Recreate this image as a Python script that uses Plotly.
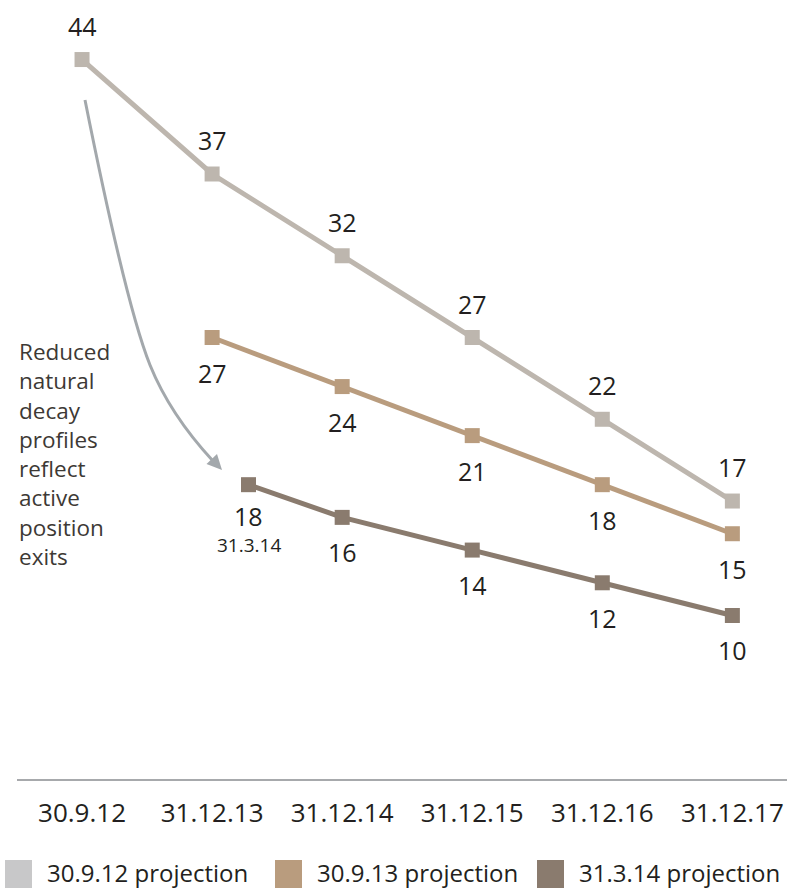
import plotly.graph_objects as go

# ---- data ----
categories = ["30.9.12", "31.12.13", "31.12.14", "31.12.15", "31.12.16", "31.12.17"]
cat_pos = [0, 1, 2, 3, 4, 5]

s1_name = "30.9.12 projection"
s1_x = [0, 1, 2, 3, 4, 5]
s1_y = [44, 37, 32, 27, 22, 17]

s2_name = "30.9.13 projection"
s2_x = [1, 2, 3, 4, 5]
s2_y = [27, 24, 21, 18, 15]

s3_name = "31.3.14 projection"
s3_x = [1.28, 2, 3, 4, 5]
s3_y = [18, 16, 14, 12, 10]
s3_start_label = "31.3.14"

note_lines = ["Reduced", "natural", "decay", "profiles", "reflect", "active", "position", "exits"]

# ---- style ----
W, H = 787, 888
ML, MR, MT, MB = 17, 0, 10, 109
PW, PH = W - ML - MR, H - MT - MB
XR = [-0.5, 5.42]
YR = [0, 47.03]
FONT = "Open Sans"
C1, C2, C3 = "#bdb6ae", "#b99c7e", "#8a7b6e"
L1, L2, L3 = "#c8c8c9", "#b99c7e", "#8a7b6e"
TXT = "#231f20"
ARROW = "#a3a8ac"

def px_x(p):  # pixel -> data x
    return XR[0] + (p - ML) / PW * (XR[1] - XR[0])

def px_y(p):  # pixel -> data y
    return YR[1] - (p - MT) / PH * (YR[1] - YR[0])

def pt(p):
    return "{:.4f} {:.4f}".format(px_x(p[0]), px_y(p[1]))

def pap_x(p):
    return (p - ML) / PW

def pap_y(p):
    return (H - MB - p) / PH

fig = go.Figure()
for name, xs, ys, col in [(s1_name, s1_x, s1_y, C1), (s2_name, s2_x, s2_y, C2), (s3_name, s3_x, s3_y, C3)]:
    fig.add_trace(go.Scatter(
        x=xs, y=ys, mode="lines+markers", name=name,
        line=dict(color=col, width=5),
        marker=dict(symbol="square", size=15, color=col),
        showlegend=False, hoverinfo="skip",
    ))

annotations = []
# data labels
for xs, ys, shift in [(s1_x, s1_y, 34), (s2_x, s2_y, -35), (s3_x, s3_y, -35)]:
    for i, (xv, yv) in enumerate(zip(xs, ys)):
        sh = shift
        if xs is s3_x and i == 0:
            sh = -31
        annotations.append(dict(x=xv, y=yv, xref="x", yref="y", text=str(yv),
                                showarrow=False, yshift=sh, xanchor="center", yanchor="middle",
                                font=dict(family=FONT, size=25, color=TXT)))
annotations.append(dict(x=s3_x[0], y=s3_y[0], xref="x", yref="y", text=s3_start_label,
                        showarrow=False, yshift=-60, xanchor="center", yanchor="middle",
                        font=dict(family=FONT, size=19, color=TXT)))
# note (single multi-line text)
annotations.append(dict(x=pap_x(17), y=pap_y(454), xref="paper", yref="paper",
                        text="<br>".join(note_lines),
                        showarrow=False, xanchor="left", yanchor="middle", align="left",
                        font=dict(family=FONT, size=22.5, color="#3d3935")))

shapes = []
# curved arrow (two quadratic segments)
path = "M {} Q {} {} Q {} {}".format(pt((85, 100)), pt((126, 305)), pt((150, 365)),
                                     pt((170, 414.5)), pt((213, 461)))
shapes.append(dict(type="path", path=path, xref="x", yref="y", line=dict(color=ARROW, width=3)))
tri = "M {} L {} L {} Z".format(pt((222, 470)), pt((206.5, 464)), pt((217, 454)))
shapes.append(dict(type="path", path=tri, xref="x", yref="y", fillcolor=ARROW, line=dict(width=0)))

# custom legend
legend_items = [(s1_name, L1, 5, 45), (s2_name, L2, 275, 315), (s3_name, L3, 537, 577)]
for name, col, sx, tx in legend_items:
    shapes.append(dict(type="rect", xref="paper", yref="paper",
                       x0=pap_x(sx), x1=pap_x(sx + 27), y0=pap_y(888), y1=pap_y(860),
                       fillcolor=col, line=dict(width=0)))
    annotations.append(dict(x=pap_x(tx), y=pap_y(872), xref="paper", yref="paper", text=name,
                            showarrow=False, xanchor="left", yanchor="middle",
                            font=dict(family=FONT, size=24, color=TXT)))

fig.update_layout(
    width=W, height=H,
    margin=dict(l=ML, r=MR, t=MT, b=MB),
    paper_bgcolor="white", plot_bgcolor="white",
    showlegend=False,
    xaxis=dict(range=XR, tickvals=cat_pos, ticktext=categories, showgrid=False, zeroline=False,
               showline=True, linecolor="#a7a9ac", linewidth=2, ticks="",
               tickfont=dict(family=FONT, size=26, color=TXT), ticklabelstandoff=10),
    yaxis=dict(range=YR, visible=False, showgrid=False, zeroline=False),
    annotations=annotations, shapes=shapes,
)
fig.write_html("out.html", config={"displayModeBar": False},
               post_script="document.body.style.margin='0';document.body.style.overflow='hidden';")
